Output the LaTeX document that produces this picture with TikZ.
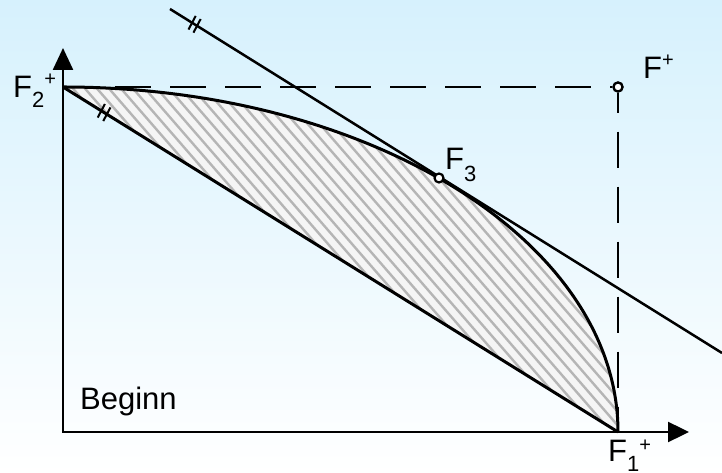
\documentclass[tikz,border=0pt]{standalone}
\usepackage{fontspec}
\setmainfont{Liberation Sans}
\usetikzlibrary{arrows.meta,calc}
\newcommand{\subsz}{\fontsize{22}{22}\selectfont}
\newcommand{\supsz}{\fontsize{20}{20}\selectfont}
\begin{document}
\begin{tikzpicture}[x=1pt,y=1pt,
  lbl/.style={anchor=base west,inner sep=0pt,font=\fontsize{31}{36}\selectfont},
  pt/.style={circle,draw,fill=white,line width=2.2pt,inner sep=0pt,minimum size=9pt},
  thick line/.style={line width=3pt},
  dashline/.style={line width=2.6pt,dash pattern=on 36pt off 19pt},
  axis/.style={line width=2.4pt,line join=miter},
  tick/.style={line width=2pt}
]
\definecolor{bgtop}{RGB}{214,241,253}
\definecolor{bgmid}{RGB}{241,249,254}
\useasboundingbox (0,0) rectangle (722,473);
\shade[top color=bgtop,middle color=bgmid,bottom color=white] (0,0) rectangle (722,473);

% key points
\coordinate (O) at (63,41);
\coordinate (F2) at (63,386);
\coordinate (F1) at (618,41);
\coordinate (Ytip) at (63,425);
\coordinate (Xtip) at (689,41);
\coordinate (T1) at (170,464);
\coordinate (T2) at (722,120);

% hatched region
\begin{scope}
  \clip (F1) arc[start angle=0,end angle=90,x radius=555,y radius=345] -- cycle;
  \fill[gray!8] (F1) arc[start angle=0,end angle=90,x radius=555,y radius=345] -- cycle;
  \foreach \s in {-430,-418,...,650}{
    \draw[gray!58,line width=2.4pt] (\s,480) -- ++(417,-480);
  }
\end{scope}

% dashed lines to F+
\node[pt] (Fp) at (618,386) {};
\draw[dashline,dash phase=3pt] (F2) -- (Fp.west);
\draw[dashline,dash phase=16pt] (Fp.south) -- (F1);

% chord and curve
\draw[thick line] (F2) -- (F1);
\draw[thick line] (F1) arc[start angle=0,end angle=90,x radius=555,y radius=345];

% tangent line
\draw[line width=2.5pt] (T1) -- (T2);

% parallel tick marks
\foreach \f in {0.069,0.079}{
  \draw[tick] ($(F2)!\f!(F1)$) ++(-3.6,-6.8) -- ++(7.2,13.6);
}
\foreach \f in {0.040,0.049}{
  \draw[tick] ($(T1)!\f!(T2)$) ++(-3.6,-6.8) -- ++(7.2,13.6);
}

% axes
\draw[axis,{Triangle[length=22pt,width=20pt]}-{Triangle[length=21pt,width=20pt]}] (Ytip) -- (O) -- (Xtip);

% points
\node[pt] (F3) at (439,295) {};
\node[pt] at (618,386) {};

% labels
\node[lbl] (lF2) at (13,375) {F\raisebox{-10pt}{\subsz 2}\raisebox{12pt}{\supsz +}};
\node[lbl] (lFp) at (643,394) {F\raisebox{12pt}{\supsz +}};
\node[lbl] (lF3) at (445,303) {F\raisebox{-12pt}{\subsz 3}};
\node[lbl] (lF1) at (608,11) {F\raisebox{-10pt}{\subsz 1}\raisebox{10pt}{\supsz +}};
\node[lbl] (beg) at (80,63) {Beginn};
\end{tikzpicture}
\end{document}
